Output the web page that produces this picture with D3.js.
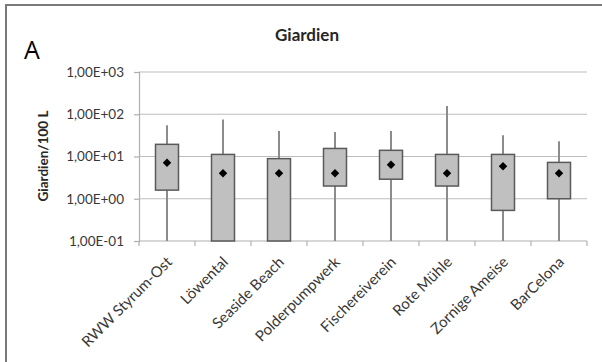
<!DOCTYPE html>
<html>
<head>
<meta charset="utf-8">
<script src="https://cdn.jsdelivr.net/npm/d3@7"></script>
<style>
  html, body { margin: 0; padding: 0; background: #fff; }
  svg { display: block; }
</style>
</head>
<body>
<svg id="chart" width="602" height="362"></svg>
<script>
// Sampling sites
const categories = ["RWW Styrum-Ost", "Löwental", "Seaside Beach", "Polderpumpwerk",
                    "Fischereiverein", "Rote Mühle", "Zornige Ameise", "BarCelona"];
// Giardia cysts per 100 L: box-plot statistics per site
const whiskerMax = [55, 75, 40, 38, 40, 156, 32, 23];
const upperQuartile = [19.4, 11.2, 8.9, 15.5, 14, 11.2, 11.2, 7.25];
const lowerQuartile = [1.6, 0.05, 0.05, 2.0, 2.9, 2.0, 0.53, 1.0];
const whiskerMin = [0.05, 0.05, 0.05, 0.05, 0.05, 0.05, 0.05, 0.05];
const meanValue = [7.1, 4.0, 4.0, 4.0, 6.4, 4.0, 5.9, 4.0];
const yTicks = [0.1, 1, 10, 100, 1000];
const yTickLabels = ["1,00E-01", "1,00E+00", "1,00E+01", "1,00E+02", "1,00E+03"];

const rows = categories.map((c, i) => ({
  name: c, max: whiskerMax[i], q3: upperQuartile[i], q1: lowerQuartile[i],
  min: whiskerMin[i], mean: meanValue[i]
}));

const svg = d3.select("#chart");
const font = "Lato, 'Liberation Sans', sans-serif";

// outer frame
svg.append("rect").attr("x", 6).attr("y", 5).attr("width", 610).attr("height", 370)
  .attr("fill", "none").attr("stroke", "#7a7a7a").attr("stroke-width", 2);

const plot = { left: 139, right: 587, top: 72, bottom: 241 };

const x = d3.scaleBand().domain(categories).range([plot.left, plot.right]).padding(0);
const y = d3.scaleLog().domain([0.1, 1000]).range([plot.bottom, plot.top]).clamp(true);

// horizontal gridlines
svg.append("g").selectAll("line").data(yTicks.slice(1)).join("line")
  .attr("x1", plot.left).attr("x2", plot.right)
  .attr("y1", d => y(d)).attr("y2", d => y(d))
  .attr("stroke", "#bdbdbd").attr("stroke-width", 1.2);

// y axis
const yAxis = d3.axisLeft(y).tickValues(yTicks)
  .tickFormat((d, i) => yTickLabels[i]).tickSize(5).tickPadding(10);
const gy = svg.append("g").attr("transform", `translate(${plot.left},0)`).call(yAxis);
gy.select(".domain").attr("stroke", "#b0b0b0").attr("stroke-width", 1.2);
gy.selectAll(".tick line").attr("stroke", "#b0b0b0").attr("stroke-width", 1.2);
gy.selectAll(".tick text").attr("font-family", font).attr("font-size", 13.5)
  .attr("fill", "#383838");

// x axis with boundary ticks
const gx = svg.append("g").attr("transform", `translate(0,${plot.bottom})`);
gx.append("line").attr("x1", plot.left).attr("x2", plot.right)
  .attr("stroke", "#b0b0b0").attr("stroke-width", 1.2);
gx.selectAll("line.bt").data(d3.range(categories.length + 1)).join("line")
  .attr("class", "bt")
  .attr("x1", i => plot.left + i * x.bandwidth()).attr("x2", i => plot.left + i * x.bandwidth())
  .attr("y1", 0).attr("y2", 5).attr("stroke", "#b0b0b0").attr("stroke-width", 1.2);
gx.selectAll("text").data(categories).join("text")
  .attr("transform", d => `translate(${x(d) + x.bandwidth() / 2 + 6},${22}) rotate(-45)`)
  .attr("text-anchor", "end")
  .attr("font-family", font).attr("font-size", 15).attr("fill", "#383838")
  .text(d => d);

const boxW = 23;
const g = svg.append("g");
const site = g.selectAll("g.site").data(rows).join("g").attr("class", "site")
  .attr("transform", d => `translate(${x(d.name) + x.bandwidth() / 2},0)`);

// whiskers
site.append("line").attr("x1", 0).attr("x2", 0)
  .attr("y1", d => y(d.max)).attr("y2", d => y(d.min))
  .attr("stroke", "#8c8c8c").attr("stroke-width", 2);

// boxes
site.append("rect")
  .attr("x", -boxW / 2).attr("width", boxW)
  .attr("y", d => y(d.q3)).attr("height", d => y(d.q1) - y(d.q3))
  .attr("fill", "#c0c0c0").attr("stroke", "#5a5a5a").attr("stroke-width", 1.5);

// mean markers
site.append("path")
  .attr("transform", d => `translate(0,${y(d.mean)})`)
  .attr("d", d3.symbol(d3.symbolDiamond2, 46)())
  .attr("fill", "#000");

// title
svg.append("text").attr("x", 307).attr("y", 41).attr("text-anchor", "middle")
  .attr("font-family", font).attr("font-weight", "bold").attr("font-size", 17)
  .attr("fill", "#262626").text("Giardien");

// panel letter
svg.append("text").attr("x", 24).attr("y", 59)
  .attr("font-family", "'Open Sans', sans-serif").attr("font-size", 25)
  .attr("fill", "#000").text("A");

// y axis title
svg.append("text").attr("transform", "translate(48,156) rotate(-90)")
  .attr("text-anchor", "middle")
  .attr("font-family", font).attr("font-weight", "bold").attr("font-size", 13.5)
  .attr("fill", "#262626").text("Giardien/100 L");
</script>
</body>
</html>
